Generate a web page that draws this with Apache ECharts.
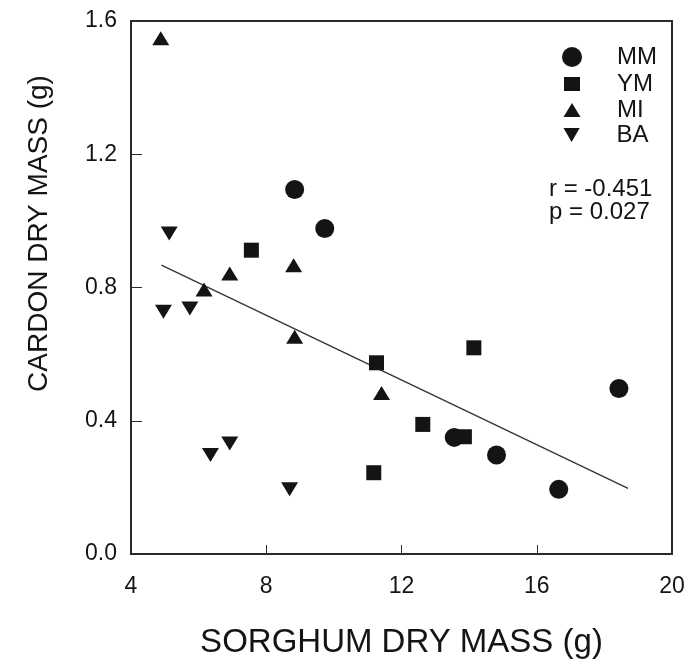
<!DOCTYPE html>
<html>
<head>
<meta charset="utf-8">
<script src="https://cdn.jsdelivr.net/npm/echarts@6/dist/echarts.min.js"></script>
<style>html,body{margin:0;padding:0;background:#fff}#c{width:696px;height:666px}</style>
</head>
<body>
<div id="c"></div>
<script>
// Data
const seriesNames = ['MM', 'YM', 'MI', 'BA'];
const mmData = [[8.84, 1.094], [9.73, 0.977], [18.43, 0.497], [13.56, 0.35], [14.81, 0.297], [16.65, 0.194]];
const ymData = [[7.56, 0.912], [11.26, 0.574], [14.14, 0.619], [12.63, 0.389], [11.18, 0.244], [13.86, 0.352]];
const miData = [[4.88, 1.548], [8.81, 0.867], [6.92, 0.842], [6.16, 0.794], [8.84, 0.652], [11.41, 0.483]];
const baData = [[5.13, 0.962], [4.96, 0.727], [5.74, 0.737], [6.35, 0.297], [6.92, 0.332], [8.69, 0.194]];
const fitLine = [[4.9, 0.867], [18.7, 0.197]];
const xTicks = [4, 8, 12, 16, 20];
const yTicks = [0.0, 0.4, 0.8, 1.2, 1.6];
const statText = ['r = -0.451', 'p = 0.027'];

const FONT = 'Liberation Sans, Arial, sans-serif';
const INK = '#141414';
const downTri = 'path://M0,0L20,0L10,17.3Z';

const symbols = {
  MM: { symbol: 'circle', size: 19, legendW: 20, legendH: 20, cy: 57 },
  YM: { symbol: 'rect', size: 15, legendW: 16, legendH: 14, cy: 84 },
  MI: { symbol: 'triangle', size: [17, 14], legendW: 17, legendH: 14, cy: 110 },
  BA: { symbol: downTri, size: [17, 14], legendW: 17, legendH: 14, cy: 135 }
};
const dataMap = { MM: mmData, YM: ymData, MI: miData, BA: baData };

const legends = seriesNames.map(n => {
  const s = symbols[n];
  return {
    data: [n], orient: 'vertical', padding: 0,
    left: 572 - s.legendW / 2, top: s.cy - 12,
    itemWidth: s.legendW, itemHeight: s.legendH,
    selectedMode: false,
    textStyle: { fontFamily: FONT, fontSize: 24, color: INK, lineHeight: 24, padding: [0, 0, 0, 42 - s.legendW / 2 - 5 + 3] }
  };
});

const series = seriesNames.map(n => ({
  name: n, type: 'scatter', data: dataMap[n],
  symbol: symbols[n].symbol, symbolSize: symbols[n].size,
  itemStyle: { color: INK, opacity: 1 },
  z: 3
}));
series.push({
  name: 'fit', type: 'line', data: fitLine, symbol: 'none',
  lineStyle: { color: '#333', width: 1.3 }, z: 2, silent: true
});

const chart = echarts.init(document.getElementById('c'), null, { renderer: 'canvas' });
chart.setOption({
  backgroundColor: '#fff',
  animation: false,
  grid: { left: 131, right: 24, top: 21, bottom: 112, show: true, borderColor: '#2a2a2a', borderWidth: 2, backgroundColor: 'transparent' },
  legend: legends,
  xAxis: {
    type: 'value', min: xTicks[0], max: xTicks[xTicks.length - 1], interval: 4,
    name: 'SORGHUM DRY MASS (g)', nameLocation: 'middle', nameGap: 72,
    nameTextStyle: { fontFamily: FONT, fontSize: 33, color: INK },
    axisLine: { show: true, lineStyle: { color: '#2a2a2a', width: 2 } },
    axisTick: { show: true, inside: true, length: 9, lineStyle: { color: '#2a2a2a', width: 1 } },
    axisLabel: { fontFamily: FONT, fontSize: 23, color: INK, margin: 21, showMinLabel: true, showMaxLabel: true },
    splitLine: { show: false }
  },
  yAxis: {
    type: 'value', min: yTicks[0], max: yTicks[yTicks.length - 1], interval: 0.4,
    name: 'CARDON DRY MASS (g)', nameLocation: 'middle', nameGap: 78,
    nameTextStyle: { fontFamily: FONT, fontSize: 28, color: INK, padding: [0, 0, 0, 108] },
    axisLine: { show: true, lineStyle: { color: '#2a2a2a', width: 2 } },
    axisTick: { show: true, inside: true, length: 11, lineStyle: { color: '#2a2a2a', width: 1 } },
    axisLabel: { fontFamily: FONT, fontSize: 23, color: INK, margin: 14, formatter: v => v.toFixed(1) },
    splitLine: { show: false }
  },
  graphic: [
    { type: 'text', x: 549, y: 189, style: { text: statText[0], font: '24px ' + FONT, fill: INK, verticalAlign: 'middle' } },
    { type: 'text', x: 549, y: 212, style: { text: statText[1], font: '24px ' + FONT, fill: INK, verticalAlign: 'middle' } }
  ],
  series: series
});
</script>
</body>
</html>
